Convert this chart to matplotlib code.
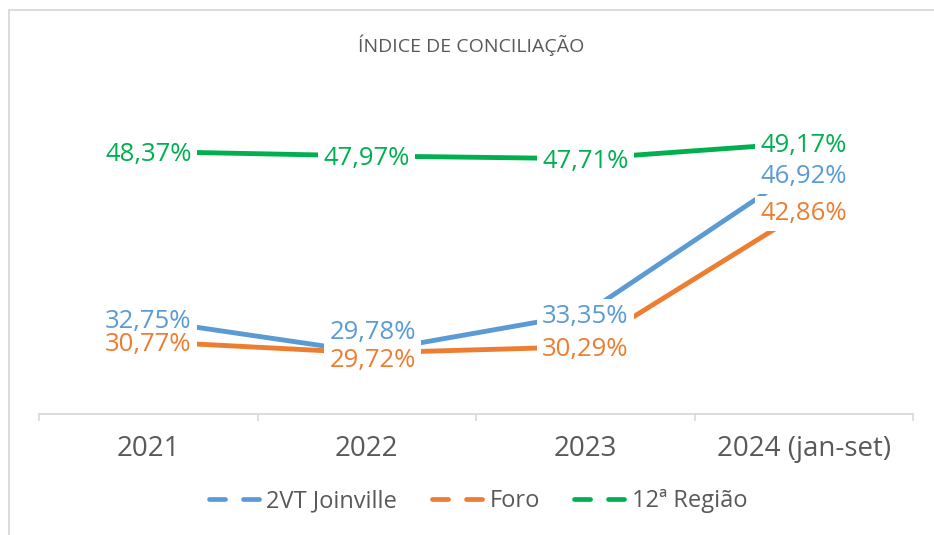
import matplotlib
matplotlib.use("Agg")
import matplotlib.pyplot as plt
from matplotlib.lines import Line2D
from matplotlib.patches import Rectangle

# ---- data ----
categories = ["2021", "2022", "2023", "2024 (jan-set)"]
series_names = ["2VT Joinville", "Foro", "12ª Região"]
joinville = [32.75, 29.78, 33.35, 46.92]
foro = [30.77, 29.72, 30.29, 42.86]
regiao = [48.37, 47.97, 47.71, 49.17]
colors = ["#5B9BD5", "#ED7D31", "#00B050"]

plt.rcParams['font.family'] = ['Open Sans', 'DejaVu Sans']

W, H = 934, 535
fig = plt.figure(figsize=(W / 100, H / 100), dpi=100)
fig.patch.set_facecolor("white")

# plot area (pixel based)
ax = fig.add_axes([39 / W, 121 / H, 874 / W, 334 / H])
x = list(range(len(categories)))
all_series = [joinville, foro, regiao]

for vals, c in zip(all_series, colors):
    ax.plot(x, vals, color=c, lw=3.5, solid_capstyle="butt", zorder=2)

# label offsets (points) where the labels were moved off the point
offsets = {
    (0, 0): (0, 1.0),
    (0, 1): (4.3, 15.8),
    (1, 1): (4.3, -3.6),
    (0, 3): (0, -5.0),
}
for si, (vals, c) in enumerate(zip(all_series, colors)):
    for i, v in enumerate(vals):
        dx, dy = offsets.get((si, i), (0, 0))
        txt = f"{v:.2f}".replace(".", ",") + "%"
        # white box first (hides the line), coloured text drawn above all boxes
        ax.annotate(txt, (x[i], v), xytext=(dx, dy - 1.8), textcoords="offset points",
                    ha="center", va="center", fontsize=18.5, color="white", zorder=5,
                    bbox=dict(boxstyle="square,pad=0.2", fc="white", ec="none"))
        ax.annotate(txt, (x[i], v), xytext=(dx, dy - 1.8), textcoords="offset points",
                    ha="center", va="center", fontsize=18.5, color=c, zorder=6)

ax.set_xlim(-0.5, len(categories) - 0.5)
ax.set_ylim(24.06, 55)

for s in ["top", "left", "right"]:
    ax.spines[s].set_visible(False)
ax.spines["bottom"].set_color("#D9D9D9")
ax.spines["bottom"].set_linewidth(1.3)
ax.set_yticks([])

ax.set_xticks([i - 0.5 for i in range(len(categories) + 1)])
ax.set_xticklabels([])
ax.tick_params(axis="x", which="major", length=5, width=1.2, color="#D9D9D9", direction="out")
ax.set_xticks(x, minor=True)
ax.set_xticklabels(categories, minor=True)
ax.tick_params(axis="x", which="minor", length=0, pad=15, labelsize=20, labelcolor="#595959")

fig.text(471 / W, 1 - 45 / H, "ÍNDICE DE CONCILIAÇÃO", ha="center", va="center",
         fontsize=14, color="#595959")

# legend with dashed handles
handles = [Line2D([], [], color=c, lw=3.4, dashes=(3.4, 3.8), dash_capstyle="round")
           for c in colors]
fig.legend(handles, series_names, loc="center", bbox_to_anchor=(478 / W, 34 / H),
           ncol=3, frameon=False, fontsize=17, handlelength=2.25, handletextpad=0.2,
           columnspacing=1.45, labelcolor="#595959")

# outer chart border (only left and top visible in the crop)
fig.patches.append(Rectangle((8.5 / W, -0.1), 2, 0.1 + (H - 10) / H, transform=fig.transFigure,
                             fill=False, ec="#D9D9D9", lw=1.3))

fig.savefig("out.png", dpi=100, facecolor="white")
